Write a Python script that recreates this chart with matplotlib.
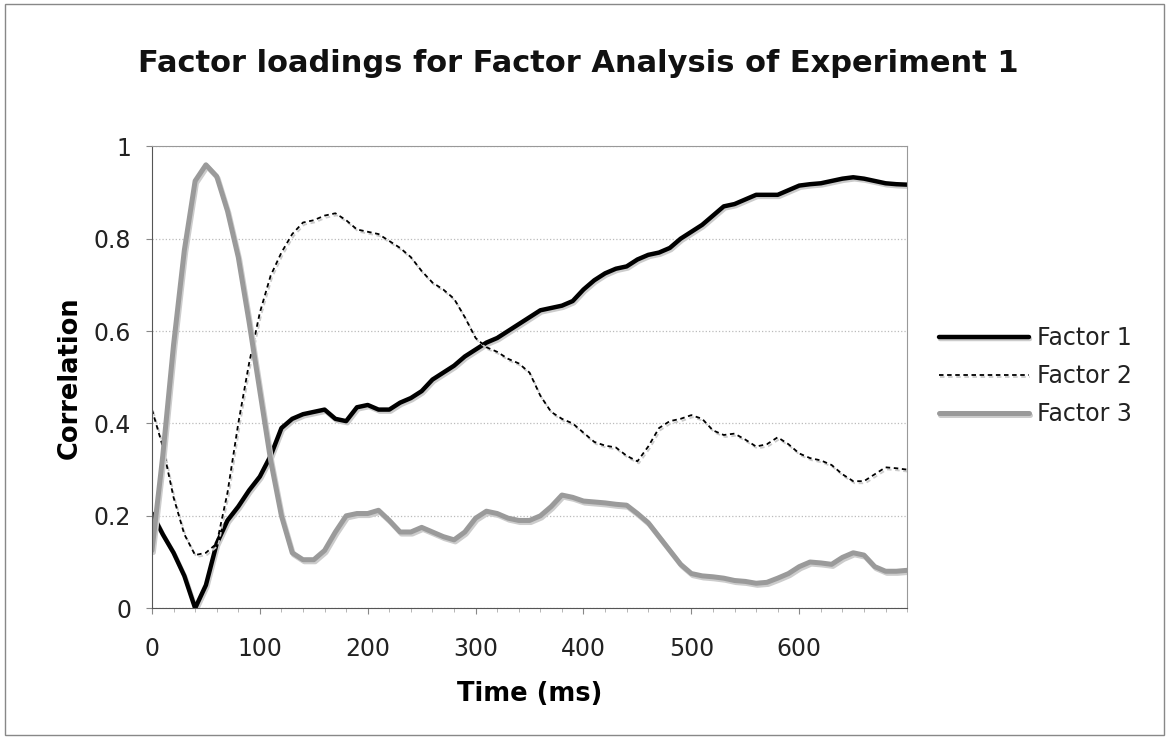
import numpy as np
import matplotlib
matplotlib.use('Agg')
import matplotlib.pyplot as plt
import matplotlib.patheffects as pe
from matplotlib.patches import Rectangle
from matplotlib.ticker import MultipleLocator

time_ms = list(range(0, 701, 10))

factor1 = [0.205, 0.16, 0.12, 0.07, 0.0, 0.05, 0.14, 0.19, 0.22, 0.255,
           0.285, 0.33, 0.39, 0.41, 0.42, 0.425, 0.43, 0.41, 0.405, 0.435,
           0.44, 0.43, 0.43, 0.445, 0.455, 0.47, 0.495, 0.51, 0.525, 0.545,
           0.56, 0.575, 0.585, 0.60, 0.615, 0.63, 0.645, 0.65, 0.655, 0.665,
           0.69, 0.71, 0.725, 0.735, 0.74, 0.755, 0.765, 0.77, 0.78, 0.80,
           0.815, 0.83, 0.85, 0.87, 0.875, 0.885, 0.895, 0.895, 0.895, 0.905,
           0.915, 0.918, 0.92, 0.925, 0.93, 0.933, 0.93, 0.925, 0.92, 0.918,
           0.917]

factor2 = [0.43, 0.35, 0.24, 0.16, 0.115, 0.12, 0.14, 0.25, 0.40, 0.53,
           0.64, 0.72, 0.77, 0.81, 0.835, 0.84, 0.85, 0.855, 0.84, 0.82,
           0.815, 0.81, 0.795, 0.78, 0.76, 0.73, 0.705, 0.69, 0.67, 0.63,
           0.585, 0.565, 0.555, 0.54, 0.53, 0.51, 0.46, 0.425, 0.41, 0.40,
           0.38, 0.36, 0.352, 0.348, 0.33, 0.318, 0.35, 0.39, 0.405, 0.41,
           0.418, 0.41, 0.385, 0.375, 0.378, 0.365, 0.35, 0.355, 0.37, 0.355,
           0.335, 0.325, 0.32, 0.31, 0.29, 0.275, 0.275, 0.29, 0.305, 0.303,
           0.30]

factor3 = [0.125, 0.33, 0.57, 0.775, 0.925, 0.96, 0.935, 0.86, 0.76, 0.62,
           0.47, 0.32, 0.20, 0.12, 0.105, 0.105, 0.125, 0.165, 0.20, 0.205,
           0.205, 0.212, 0.19, 0.165, 0.165, 0.175, 0.165, 0.155, 0.148, 0.165,
           0.195, 0.21, 0.205, 0.195, 0.19, 0.19, 0.20, 0.22, 0.245, 0.24,
           0.232, 0.23, 0.228, 0.225, 0.223, 0.205, 0.185, 0.155, 0.125, 0.095,
           0.075, 0.07, 0.068, 0.065, 0.06, 0.058, 0.054, 0.056, 0.065, 0.075,
           0.09, 0.1, 0.098, 0.095, 0.11, 0.12, 0.115, 0.09, 0.08, 0.08,
           0.082]

x_ticks = [0, 100, 200, 300, 400, 500, 600]
y_ticks = [0, 0.2, 0.4, 0.6, 0.8, 1]
y_tick_labels = ['0', '0.2', '0.4', '0.6', '0.8', '1']

fig = plt.figure(figsize=(11.69, 7.39), dpi=100)
ax = fig.add_axes([0.130, 0.177, 0.646, 0.625])

shadow = [pe.SimpleLineShadow(offset=(1, -1.5), shadow_color='#cccccc', alpha=1), pe.Normal()]
ax.plot(time_ms, factor1, color='black', lw=3.2, label='Factor 1',
        solid_capstyle='round', path_effects=shadow)
ax.plot(time_ms, factor2, color='black', lw=1.3, ls=(0, (2.5, 2)), label='Factor 2',
        path_effects=shadow)
ax.plot(time_ms, factor3, color='#9a9a9a', lw=3.6, label='Factor 3',
        solid_capstyle='round', path_effects=shadow)

ax.set_xlim(0, 700)
ax.set_ylim(0, 1)
ax.set_xticks(x_ticks)
ax.xaxis.set_minor_locator(MultipleLocator(20))
ax.set_yticks(y_ticks)
ax.set_yticklabels(y_tick_labels)
ax.tick_params(axis='both', labelsize=17, length=4, color='#888888', labelcolor='#222222')
ax.tick_params(axis='x', pad=17)
ax.tick_params(axis='y', pad=11)
ax.tick_params(axis='x', which='minor', length=3, color='#aaaaaa')
ax.grid(axis='y', color='#bbbbbb', ls=':', lw=0.9)
ax.set_axisbelow(True)
for s in ['top', 'right']:
    ax.spines[s].set_color('#999999')
for s in ['left', 'bottom']:
    ax.spines[s].set_color('#555555')

ax.set_xlabel('Time (ms)', fontsize=18.5, fontweight='bold', labelpad=14)
ax.set_ylabel('Correlation', fontsize=18.5, fontweight='bold', labelpad=8)
fig.text(0.495, 0.9026, 'Factor loadings for Factor Analysis of Experiment 1',
         fontsize=22, fontweight='bold', ha='center', va='baseline', color='#111111')

leg = fig.legend(loc='center left', bbox_to_anchor=(0.785, 0.491), frameon=False,
                 fontsize=17, handlelength=3.8, handletextpad=0.35, labelspacing=0.6)
for t in leg.get_texts():
    t.set_color('#222222')

fig.patches.append(Rectangle((0.004, 0.005), 0.992, 0.99, transform=fig.transFigure,
                             fill=False, edgecolor='#888888', lw=1.0))

fig.savefig('out.png', dpi=100)
